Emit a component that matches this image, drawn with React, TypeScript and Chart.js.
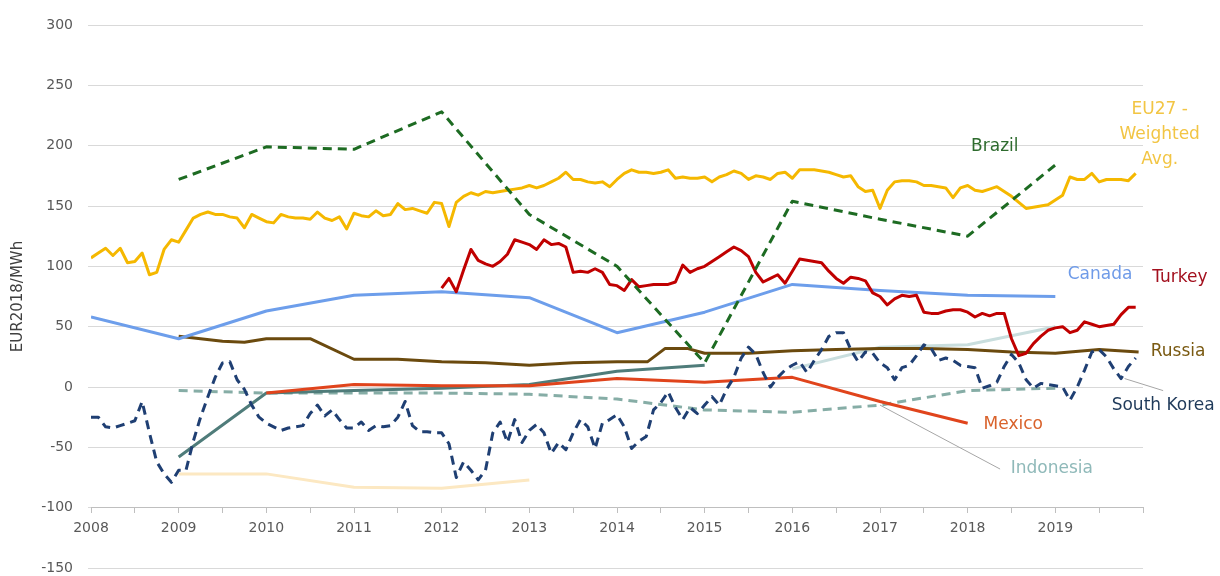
import React, { useEffect, useRef } from 'react';
import { Chart, registerables } from 'chart.js';

Chart.register(...registerables);

// ---------- DATA ----------
// Monthly series (Jan 2008 .. Dec 2019)
const monthStartYear = 2008;
const eu27Weighted = [
  107, 111, 115, 109, 115, 103, 104, 111, 93, 95, 114, 122,
  120, 130, 140, 143, 145, 143, 143, 141, 140, 132, 143, 140,
  137, 136, 143, 141, 140, 140, 139, 145, 140, 138, 141, 131,
  144, 142, 141, 146, 142, 143, 152, 147, 148, 146, 144, 153,
  152, 133, 153, 158, 161, 159, 162, 161, 162, 163, 164, 165,
  167, 165, 167, 170, 173, 178, 172, 172, 170, 169, 170, 166,
  172, 177, 180, 178, 178, 177, 178, 180, 173, 174, 173, 173,
  174, 170, 174, 176, 179, 177, 172, 175, 174, 172, 177, 178,
  173, 180, 180, 180, 179, 178, 176, 174, 175, 166, 162, 163,
  148, 163, 170, 171, 171, 170, 167, 167, 166, 165, 157, 165,
  167, 163, 162, 164, 166, 162, 158, 153, 148, 149, 150, 151,
  155, 159, 174, 172, 172, 177, 170, 172, 172, 172, 171, 177,
];
const southKorea = [
  -25, -25, -33, -34, -32, -30, -28, -12, -38, -62, -72, -79,
  -69, -69, -45, -25, -8, 8, 20, 21, 6, -2, -15, -25,
  -30, -33, -36, -34, -33, -32, -22, -15, -24, -19, -27, -34,
  -34, -29, -36, -32, -33, -32, -25, -12, -32, -37, -37, -38,
  -38, -47, -75, -62, -69, -77, -69, -38, -29, -46, -27, -46,
  -36, -31, -38, -55, -46, -52, -38, -27, -33, -51, -30, -27,
  -23, -33, -51, -45, -41, -19, -13, -4, -17, -27, -17, -22,
  -15, -8, -15, -2, 8, 24, 33, 27, 12, 0, 8, 14,
  18, 21, 12, 22, 31, 42, 45, 45, 31, 21, 29, 28,
  20, 16, 6, 16, 18, 26, 35, 32, 22, 24, 22, 18,
  17, 16, -1, 1, 4, 17, 27, 20, 6, -1, 3, 2,
  1, 0, -11, 0, 14, 29, 31, 25, 15, 7, 17, 24,
];
// Monthly from Jan 2012
const turkeyStartYear = 2012;
const turkey = [
  82, 90, 79, 97, 114, 105, 102, 100, 104, 110, 122, 120,
  118, 114, 122, 118, 119, 116, 95, 96, 95, 98, 95, 85,
  84, 80, 89, 83, 84, 85, 85, 85, 87, 101, 95, 98,
  100, 104, 108, 112, 116, 113, 108, 95, 87, 90, 93, 86,
  96, 106, 105, 104, 103, 96, 90, 86, 91, 90, 88, 78,
  75, 68, 73, 76, 75, 76, 62, 61, 61, 63, 64, 64,
  62, 58, 61, 59, 61, 61, 40, 26, 28, 36, 42, 47,
  49, 50, 45, 47, 54, 52, 50, 51, 52, 60, 66, 66,
];

// Annual / sparse series
const brazilYears = [2009, 2010, 2011, 2012, 2013, 2014, 2015, 2016, 2017, 2018, 2019];
const brazil = [172, 199, 197, 228, 143, 100, 20, 154, 139, 125, 184];

const canadaYears = [2008, 2009, 2010, 2011, 2012, 2013, 2014, 2015, 2016, 2017, 2018, 2019];
const canada = [58, 40, 63, 76, 79, 74, 45, 62, 85, 80, 76, 75];

const russiaYears = [2009, 2009.5, 2009.75, 2010, 2010.5, 2011, 2011.5, 2012, 2012.5, 2013, 2013.5, 2014, 2014.35, 2014.55, 2014.8, 2015, 2015.5, 2016, 2016.5, 2017, 2017.5, 2018, 2018.5, 2019, 2019.5, 2019.95];
const russia = [42, 38, 37, 40, 40, 23, 23, 21, 20, 18, 20, 21, 21, 32, 32, 28, 28, 30, 31, 32, 32, 31, 29, 28, 31, 29];

const mexicoYears = [2010, 2011, 2012, 2013, 2014, 2015, 2016, 2017, 2018];
const mexico = [-5, 2, 1, 1, 7, 4, 8, -12, -30];

const indonesiaYears = [2009, 2010, 2011, 2012, 2013, 2014, 2015, 2016, 2017, 2018, 2019];
const indonesia = [-3, -5, -5, -5, -6, -10, -19, -21, -15, -3, -1];

const unlabelledAYears = [2009, 2010, 2011, 2012, 2013, 2014, 2015];
const unlabelledA = [-58, -5, -3, -1, 2, 13, 18];

const unlabelledBYears = [2016, 2017, 2018, 2019];
const unlabelledB = [15, 33, 35, 50];

const unlabelledCYears = [2009, 2010, 2011, 2012, 2013];
const unlabelledC = [-72, -72, -83, -84, -77];

const xTickYears = [2008, 2009, 2010, 2011, 2012, 2013, 2014, 2015, 2016, 2017, 2018, 2019];

// ---------- helpers ----------
const monthly = (startYear: number, values: number[]) =>
  values.map((v, i) => ({ x: startYear + i / 12, y: v }));
const paired = (xs: number[], ys: number[]) => xs.map((x, i) => ({ x, y: ys[i] }));

const FONT = 'DejaVu Sans';

// text annotations (positions in data units)
const annotations = [
  { text: ['Brazil'], x: 2018.31, y: 199, color: '#2E6B2E' },
  { text: ['EU27 -', 'Weighted', 'Avg.'], x: 2020.19, y: 209, color: '#F2C544' },
  { text: ['Canada'], x: 2019.51, y: 93, color: '#6F9BE8' },
  { text: ['Turkey'], x: 2020.42, y: 91, color: '#A3101E' },
  { text: ['Russia'], x: 2020.4, y: 29, color: '#7A5A12' },
  { text: ['South Korea'], x: 2020.23, y: -15, color: '#1F3A5A' },
  { text: ['Mexico'], x: 2018.52, y: -31, color: '#D9622B' },
  { text: ['Indonesia'], x: 2018.96, y: -68, color: '#8FB9B9' },
];
const leaders = [
  { x1: 2017.0, y1: -15, x2: 2018.37, y2: -68 },
  { x1: 2019.79, y1: 7, x2: 2020.23, y2: -3 },
];

const annotationPlugin = {
  id: 'textAnnotations',
  afterDatasetsDraw(chart: any) {
    const { ctx, scales } = chart;
    const xs = scales.x;
    const ys = scales.y;
    ctx.save();
    ctx.strokeStyle = '#A6A6A6';
    ctx.lineWidth = 1;
    leaders.forEach((l) => {
      ctx.beginPath();
      ctx.moveTo(xs.getPixelForValue(l.x1), ys.getPixelForValue(l.y1));
      ctx.lineTo(xs.getPixelForValue(l.x2), ys.getPixelForValue(l.y2));
      ctx.stroke();
    });
    ctx.font = `17px "${FONT}"`;
    ctx.textAlign = 'center';
    ctx.textBaseline = 'middle';
    const lh = 25;
    annotations.forEach((a) => {
      ctx.fillStyle = a.color;
      const cx = xs.getPixelForValue(a.x);
      const cy = ys.getPixelForValue(a.y);
      const n = a.text.length;
      a.text.forEach((t, i) => {
        ctx.fillText(t, cx, cy + (i - (n - 1) / 2) * lh);
      });
    });
    ctx.restore();
  },
};

const lineBase = {
  pointRadius: 0,
  pointHoverRadius: 0,
  borderWidth: 3,
  fill: false,
  tension: 0,
  borderJoinStyle: 'round' as const,
};

export default function App() {
  const canvasRef = useRef<HTMLCanvasElement | null>(null);

  useEffect(() => {
    if (!canvasRef.current) return;
    const chart = new Chart(canvasRef.current, {
      type: 'line',
      data: {
        datasets: [
          { ...lineBase, label: 'Brazil', data: paired(brazilYears, brazil), borderColor: '#1D6B22', borderDash: [9, 6] },
          { ...lineBase, label: 'South Korea', data: monthly(monthStartYear, southKorea), borderColor: '#1F3F73', borderDash: [9, 6] },
          { ...lineBase, label: 'Turkey', data: monthly(turkeyStartYear, turkey), borderColor: '#C00000' },
          { ...lineBase, label: 'EU27 - Weighted Avg.', data: monthly(monthStartYear, eu27Weighted), borderColor: '#F5B800' },
          { ...lineBase, label: 'Canada', data: paired(canadaYears, canada), borderColor: '#6D9EEB' },
          { ...lineBase, label: 'Russia', data: paired(russiaYears, russia), borderColor: '#6B4A0E' },
          { ...lineBase, label: 'Mexico', data: paired(mexicoYears, mexico), borderColor: '#E0441C' },
          { ...lineBase, label: 'Unlabelled A', data: paired(unlabelledAYears, unlabelledA), borderColor: '#4F7C7A' },
          { ...lineBase, label: 'Indonesia', data: paired(indonesiaYears, indonesia), borderColor: '#86ADA6', borderDash: [9, 6] },
          { ...lineBase, label: 'Unlabelled B', data: paired(unlabelledBYears, unlabelledB), borderColor: '#C9DEDE' },
          { ...lineBase, label: 'Unlabelled C', data: paired(unlabelledCYears, unlabelledC), borderColor: '#FCE8C2' },
        ],
      },
      options: {
        responsive: false,
        animation: false,
        layout: { padding: { left: 0, right: 77, top: 25, bottom: 8 } },
        plugins: {
          legend: { display: false },
          tooltip: { enabled: false },
        },
        scales: {
          x: {
            type: 'linear',
            min: 2008,
            max: 2020,
            position: { y: -100 } as any,
            grid: {
              drawOnChartArea: false,
              drawTicks: true,
              tickLength: 5,
              color: '#BFBFBF',
            },
            border: { display: true, color: '#BFBFBF', width: 1 },
            ticks: {
              stepSize: 0.5,
              autoSkip: false,
              maxTicksLimit: 40,
              maxRotation: 0,
              minRotation: 0,
              padding: 7,
              color: '#595959',
              font: { family: FONT, size: 14 },
              callback: (v: any) => {
                const n = Number(v);
                const r = Math.round(n);
                return Math.abs(n - r) < 1e-6 && xTickYears.includes(r) ? String(r) : '';
              },
            },
          },
          y: {
            type: 'linear',
            min: -150,
            max: 300,
            afterFit: (scale: any) => {
              scale.width = 91;
              scale.paddingTop = 0;
              scale.paddingBottom = 0;
            },
            grid: {
              color: '#D9D9D9',
              lineWidth: 1,
              drawTicks: true,
              tickLength: 3,
            },
            border: { display: false },
            ticks: {
              stepSize: 50,
              padding: 15,
              color: '#595959',
              font: { family: FONT, size: 14 },
            },
            title: {
              display: true,
              text: 'EUR2018/MWh',
              color: '#404040',
              font: { family: FONT, size: 15 },
              padding: { top: 9, bottom: 0 },
            },
          },
        },
      },
      plugins: [annotationPlugin],
    });
    return () => chart.destroy();
  }, []);

  return (
    <div style={{ position: 'fixed', left: 0, top: 0, width: 1220, height: 576, background: '#fff' }}>
      <canvas ref={canvasRef} width={1220} height={576} style={{ display: 'block' }} />
    </div>
  );
}
